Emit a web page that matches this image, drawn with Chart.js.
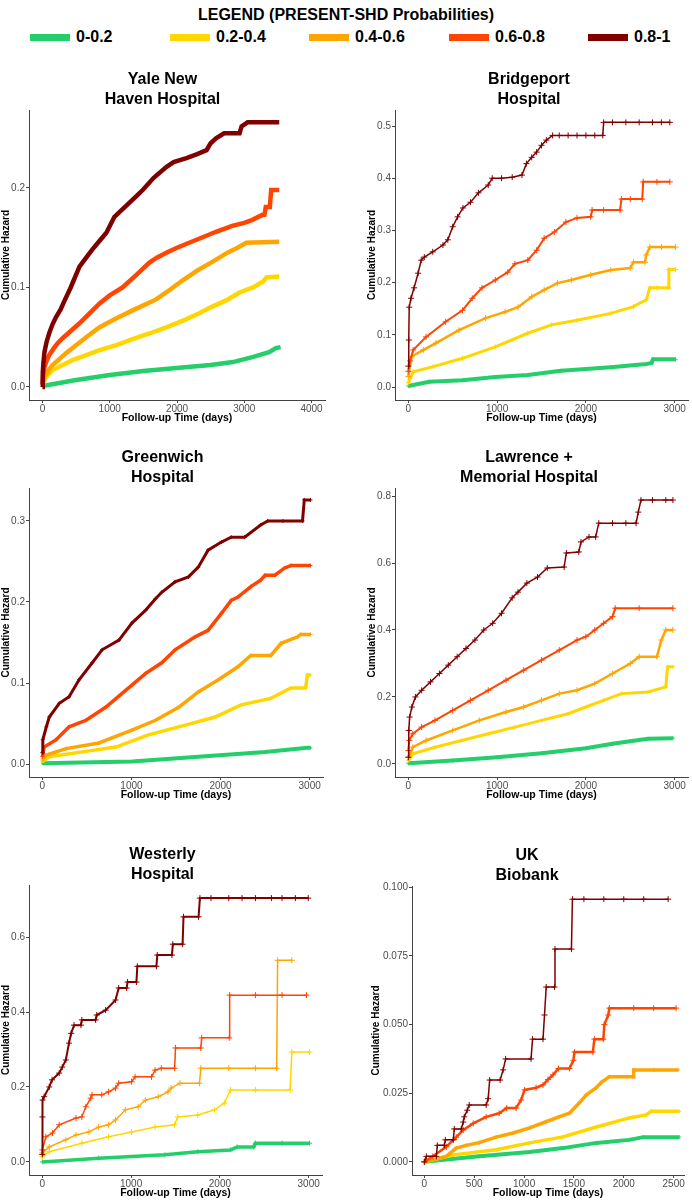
<!DOCTYPE html>
<html>
<head>
<meta charset="utf-8">
<script src="https://cdn.jsdelivr.net/npm/chart.js@4.4.1/dist/chart.umd.min.js"></script>
<style>
html,body{margin:0;padding:0;background:#fff;}
body{width:692px;height:1200px;position:relative;overflow:hidden;font-family:"Liberation Sans",Arial,sans-serif;}
#lt{position:absolute;left:0;top:6px;width:692px;text-align:center;font-weight:bold;font-size:16px;line-height:18px;color:#000;}
.sw{position:absolute;top:34px;width:40px;height:7px;}
.lb{position:absolute;top:28px;font-weight:bold;font-size:16px;line-height:18px;color:#000;}
canvas{position:absolute;}
</style>
</head>
<body>
<div id="lt">LEGEND (PRESENT-SHD Probabilities)</div>
<script>
// ---------- legend ----------
const groupLabels = ['0-0.2', '0.2-0.4', '0.4-0.6', '0.6-0.8', '0.8-1'];
const groupColors = ['#23CE6B', '#FFD700', '#FFA500', '#FF4500', '#800000'];

// ---------- Yale New Haven Hospital ----------
const yale_t_g = [0, 500, 1000, 1500, 1990, 2500, 2830, 3120, 3370, 3470, 3540];
const yale_h_g = [0.001, 0.007, 0.012, 0.016, 0.019, 0.022, 0.025, 0.030, 0.035, 0.039, 0.040];
const yale_t_y = [0, 30, 80, 150, 300, 450, 650, 850, 1100, 1340, 1600, 1840, 2100, 2330, 2500, 2730, 2930, 3130, 3280, 3330, 3520];
const yale_h_y = [0.001, 0.007, 0.012, 0.017, 0.022, 0.027, 0.032, 0.037, 0.042, 0.048, 0.054, 0.060, 0.067, 0.074, 0.080, 0.087, 0.095, 0.100, 0.106, 0.110, 0.111];
const yale_t_o = [0, 30, 80, 150, 250, 350, 500, 650, 850, 1100, 1340, 1500, 1690, 1900, 2080, 2300, 2580, 2750, 2900, 3030, 3520];
const yale_h_o = [0.002, 0.010, 0.016, 0.022, 0.028, 0.034, 0.042, 0.050, 0.060, 0.069, 0.077, 0.082, 0.088, 0.098, 0.107, 0.117, 0.128, 0.135, 0.140, 0.145, 0.146];
const yale_t_r = [0, 10, 30, 60, 100, 160, 225, 300, 400, 550, 700, 850, 1000, 1190, 1400, 1590, 1700, 1840, 2000, 2180, 2400, 2580, 2820, 3000, 3120, 3270, 3300, 3320, 3380, 3400, 3520];
const yale_h_r = [0.003, 0.012, 0.020, 0.026, 0.032, 0.038, 0.044, 0.049, 0.055, 0.064, 0.074, 0.084, 0.092, 0.100, 0.113, 0.125, 0.130, 0.135, 0.140, 0.145, 0.151, 0.156, 0.162, 0.165, 0.168, 0.173, 0.173, 0.181, 0.181, 0.198, 0.198];
const yale_t_d = [0, 5, 15, 30, 60, 100, 150, 200, 270, 330, 420, 550, 650, 740, 850, 950, 1010, 1070, 1180, 1290, 1400, 1490, 1650, 1840, 1950, 2140, 2300, 2440, 2500, 2580, 2700, 2930, 2960, 3050, 3520];
const yale_h_d = [0.000, 0.015, 0.025, 0.035, 0.045, 0.054, 0.063, 0.070, 0.078, 0.087, 0.100, 0.121, 0.130, 0.138, 0.147, 0.155, 0.163, 0.171, 0.178, 0.185, 0.192, 0.198, 0.210, 0.221, 0.226, 0.230, 0.234, 0.238, 0.245, 0.250, 0.255, 0.255, 0.262, 0.266, 0.266];
const yale_xticks = [0, 1000, 2000, 3000, 4000];
const yale_yticks = [0, 0.1, 0.2];

// ---------- Bridgeport Hospital ----------
const bp_t_g = [0, 235, 610, 980, 1345, 1720, 2280, 2680, 2740, 2755, 3010];
const bp_h_g = [0.002, 0.010, 0.013, 0.019, 0.023, 0.031, 0.038, 0.044, 0.046, 0.053, 0.053];
const bp_t_y = [0, 55, 280, 610, 980, 1345, 1610, 1900, 2280, 2535, 2680, 2720, 2800, 2925, 2935, 3010];
const bp_h_y = [0.008, 0.029, 0.039, 0.055, 0.077, 0.103, 0.119, 0.128, 0.141, 0.154, 0.167, 0.190, 0.190, 0.190, 0.225, 0.225];
const bp_t_o = [0, 35, 170, 310, 570, 870, 1090, 1235, 1390, 1530, 1680, 1835, 2055, 2280, 2500, 2535, 2665, 2680, 2720, 2850, 3010];
const bp_h_o = [0.020, 0.058, 0.071, 0.084, 0.109, 0.132, 0.144, 0.153, 0.173, 0.186, 0.199, 0.205, 0.215, 0.224, 0.228, 0.239, 0.239, 0.253, 0.268, 0.268, 0.268];
const bp_t_r = [0, 20, 55, 200, 420, 610, 720, 830, 980, 1120, 1200, 1345, 1445, 1530, 1645, 1775, 1900, 2055, 2070, 2200, 2385, 2400, 2500, 2635, 2645, 2800, 2945];
const bp_h_r = [0.030, 0.050, 0.071, 0.096, 0.125, 0.147, 0.170, 0.190, 0.205, 0.220, 0.236, 0.243, 0.262, 0.285, 0.297, 0.316, 0.324, 0.326, 0.339, 0.339, 0.339, 0.360, 0.360, 0.360, 0.393, 0.393, 0.393];
const bp_t_d = [0, 5, 10, 30, 65, 110, 145, 180, 275, 390, 445, 500, 555, 615, 700, 790, 900, 945, 1050, 1170, 1280, 1330, 1390, 1445, 1500, 1555, 1625, 1700, 1800, 1900, 2000, 2100, 2190, 2200, 2300, 2450, 2600, 2750, 2850, 2945];
const bp_h_d = [0.040, 0.090, 0.153, 0.170, 0.190, 0.218, 0.243, 0.249, 0.259, 0.272, 0.282, 0.307, 0.326, 0.343, 0.354, 0.372, 0.387, 0.400, 0.400, 0.402, 0.406, 0.428, 0.440, 0.450, 0.463, 0.473, 0.482, 0.482, 0.482, 0.482, 0.482, 0.482, 0.482, 0.507, 0.507, 0.507, 0.507, 0.507, 0.507, 0.507];
const bp_xticks = [0, 1000, 2000, 3000];
const bp_yticks = [0, 0.1, 0.2, 0.3, 0.4, 0.5];

// ---------- Greenwich Hospital ----------
const gw_t_g = [0, 1005, 1750, 2500, 2975, 3010];
const gw_h_g = [0.001, 0.003, 0.009, 0.015, 0.020, 0.020];
const gw_t_y = [0, 78, 450, 825, 1190, 1605, 1940, 2230, 2565, 2790, 2955, 2975, 3010];
const gw_h_y = [0.003, 0.009, 0.015, 0.021, 0.036, 0.048, 0.058, 0.073, 0.081, 0.094, 0.094, 0.110, 0.110];
const gw_t_o = [0, 45, 265, 635, 1005, 1270, 1530, 1750, 1975, 2195, 2340, 2565, 2680, 2865, 2900, 3010];
const gw_h_o = [0.005, 0.011, 0.019, 0.026, 0.042, 0.054, 0.070, 0.089, 0.104, 0.120, 0.134, 0.134, 0.149, 0.157, 0.160, 0.160];
const gw_t_r = [0, 20, 155, 300, 490, 710, 935, 1160, 1340, 1490, 1715, 1860, 2010, 2120, 2195, 2340, 2450, 2500, 2610, 2720, 2790, 3010];
const gw_h_r = [0.009, 0.021, 0.030, 0.046, 0.054, 0.070, 0.091, 0.112, 0.125, 0.141, 0.157, 0.165, 0.186, 0.202, 0.206, 0.219, 0.227, 0.233, 0.233, 0.242, 0.245, 0.245];
const gw_t_d = [0, 5, 45, 78, 190, 300, 412, 560, 670, 860, 1005, 1160, 1270, 1340, 1490, 1640, 1750, 1860, 2010, 2120, 2270, 2450, 2530, 2700, 2920, 2940, 3010];
const gw_h_d = [0.014, 0.030, 0.046, 0.058, 0.075, 0.083, 0.104, 0.125, 0.141, 0.153, 0.174, 0.190, 0.204, 0.212, 0.225, 0.231, 0.243, 0.264, 0.274, 0.280, 0.280, 0.295, 0.300, 0.300, 0.300, 0.326, 0.326];
const gw_xticks = [0, 1000, 2000, 3000];
const gw_yticks = [0, 0.1, 0.2, 0.3];

// ---------- Lawrence + Memorial Hospital ----------
const lm_t_g = [0, 500, 1000, 1500, 2000, 2300, 2500, 2700, 2980];
const lm_h_g = [0.002, 0.010, 0.020, 0.032, 0.047, 0.060, 0.068, 0.075, 0.077];
const lm_t_y = [0, 50, 300, 600, 900, 1200, 1500, 1800, 2000, 2200, 2400, 2700, 2900, 2920, 2980];
const lm_h_y = [0.010, 0.030, 0.050, 0.070, 0.090, 0.110, 0.130, 0.150, 0.170, 0.190, 0.210, 0.215, 0.230, 0.290, 0.290];
const lm_t_o = [0, 50, 200, 500, 800, 1100, 1300, 1500, 1700, 1900, 2100, 2300, 2500, 2600, 2800, 2850, 2900, 2980];
const lm_h_o = [0.020, 0.050, 0.070, 0.100, 0.130, 0.155, 0.170, 0.190, 0.210, 0.220, 0.240, 0.270, 0.300, 0.320, 0.320, 0.370, 0.400, 0.400];
const lm_t_r = [0, 10, 50, 150, 300, 500, 700, 900, 1100, 1300, 1500, 1700, 1900, 2000, 2100, 2200, 2300, 2330, 2600, 2980];
const lm_h_r = [0.040, 0.070, 0.090, 0.110, 0.130, 0.160, 0.190, 0.220, 0.250, 0.280, 0.310, 0.340, 0.370, 0.380, 0.400, 0.420, 0.440, 0.465, 0.465, 0.465];
const lm_t_d = [0, 5, 15, 40, 80, 150, 250, 350, 450, 550, 650, 750, 850, 950, 1050, 1170, 1235, 1335, 1455, 1565, 1755, 1780, 1920, 1945, 2035, 2110, 2145, 2300, 2450, 2565, 2590, 2620, 2750, 2900, 2980];
const lm_h_d = [0.020, 0.100, 0.140, 0.170, 0.200, 0.220, 0.245, 0.270, 0.295, 0.320, 0.345, 0.370, 0.400, 0.420, 0.450, 0.496, 0.513, 0.540, 0.558, 0.585, 0.588, 0.630, 0.633, 0.663, 0.678, 0.678, 0.719, 0.719, 0.719, 0.719, 0.752, 0.788, 0.788, 0.788, 0.788];
const lm_xticks = [0, 1000, 2000, 3000];
const lm_yticks = [0, 0.2, 0.4, 0.6, 0.8];

// ---------- Westerly Hospital ----------
const ws_t_g = [0, 635, 1380, 1750, 2120, 2195, 2380, 2400, 2700, 3010];
const ws_h_g = [0.000, 0.010, 0.019, 0.027, 0.032, 0.040, 0.040, 0.050, 0.050, 0.050];
const ws_t_y = [0, 78, 445, 745, 1005, 1270, 1490, 1525, 1750, 1940, 2050, 2120, 2400, 2790, 2810, 3010];
const ws_h_y = [0.014, 0.027, 0.050, 0.067, 0.080, 0.093, 0.099, 0.120, 0.125, 0.139, 0.157, 0.192, 0.192, 0.192, 0.293, 0.293];
const ws_t_o = [0, 78, 265, 380, 525, 635, 745, 825, 935, 1080, 1160, 1305, 1415, 1450, 1550, 1770, 1785, 2100, 2400, 2640, 2650, 2810];
const ws_h_o = [0.024, 0.040, 0.059, 0.072, 0.080, 0.093, 0.099, 0.112, 0.139, 0.147, 0.165, 0.174, 0.187, 0.197, 0.210, 0.210, 0.250, 0.250, 0.250, 0.250, 0.538, 0.538];
const ws_t_r = [0, 40, 115, 190, 380, 445, 490, 545, 560, 670, 745, 825, 860, 1005, 1045, 1230, 1270, 1340, 1490, 1500, 1785, 1795, 2105, 2110, 2400, 2700, 2975];
const ws_h_r = [0.032, 0.067, 0.077, 0.099, 0.117, 0.120, 0.147, 0.170, 0.179, 0.179, 0.187, 0.197, 0.210, 0.214, 0.227, 0.227, 0.245, 0.250, 0.250, 0.304, 0.304, 0.331, 0.331, 0.445, 0.445, 0.445, 0.445];
const ws_t_d = [0, 1, 3, 20, 78, 110, 190, 225, 265, 300, 325, 357, 435, 445, 600, 613, 713, 825, 860, 950, 960, 1060, 1070, 1285, 1295, 1460, 1470, 1580, 1590, 1760, 1775, 1900, 2100, 2250, 2400, 2580, 2700, 2850, 2995];
const ws_h_d = [0.020, 0.120, 0.165, 0.174, 0.200, 0.219, 0.237, 0.253, 0.272, 0.317, 0.343, 0.365, 0.365, 0.379, 0.379, 0.392, 0.405, 0.432, 0.464, 0.464, 0.480, 0.480, 0.522, 0.522, 0.552, 0.552, 0.581, 0.581, 0.654, 0.654, 0.704, 0.704, 0.704, 0.704, 0.704, 0.704, 0.704, 0.704, 0.704];
const ws_xticks = [0, 1000, 2000, 3000];
const ws_yticks = [0, 0.2, 0.4, 0.6];

// ---------- UK Biobank ----------
const uk_t_g = [0, 550, 1055, 1390, 1725, 2055, 2195, 2555];
const uk_h_g = [0, 0.0020, 0.0036, 0.0050, 0.0069, 0.0080, 0.0090, 0.0090];
const uk_t_y = [0, 290, 720, 1055, 1390, 1725, 2055, 2225, 2275, 2555];
const uk_h_y = [0, 0.0025, 0.0044, 0.0069, 0.0091, 0.0127, 0.0160, 0.0171, 0.0184, 0.0184];
const uk_t_o = [0, 220, 320, 420, 550, 720, 890, 1055, 1220, 1350, 1455, 1555, 1625, 1725, 1775, 1855, 2095, 2100, 2300, 2545];
const uk_h_o = [0, 0.0020, 0.0050, 0.0060, 0.0070, 0.0090, 0.0105, 0.0124, 0.0146, 0.0164, 0.0177, 0.0215, 0.0244, 0.0270, 0.0290, 0.0310, 0.0310, 0.0335, 0.0335, 0.0335];
const uk_t_r = [0, 85, 220, 320, 390, 490, 620, 750, 825, 920, 970, 1005, 1120, 1190, 1240, 1290, 1345, 1455, 1495, 1505, 1690, 1705, 1795, 1805, 1845, 1855, 2100, 2300, 2525];
const uk_h_r = [0, 0.0020, 0.0055, 0.0090, 0.0116, 0.0140, 0.0164, 0.0177, 0.0196, 0.0196, 0.0225, 0.0262, 0.0270, 0.0280, 0.0300, 0.0317, 0.0340, 0.0340, 0.0370, 0.0400, 0.0400, 0.0447, 0.0447, 0.0500, 0.0535, 0.0560, 0.0560, 0.0560, 0.0560];
const uk_t_d = [0, 20, 120, 130, 200, 210, 290, 300, 370, 390, 400, 430, 450, 620, 640, 655, 760, 790, 815, 1070, 1085, 1190, 1205, 1222, 1305, 1310, 1475, 1485, 1600, 1800, 2000, 2200, 2445];
const uk_h_d = [0, 0.0020, 0.0020, 0.0060, 0.0060, 0.0080, 0.0080, 0.0120, 0.0120, 0.0145, 0.0164, 0.0188, 0.0207, 0.0207, 0.0230, 0.0298, 0.0298, 0.0335, 0.0375, 0.0375, 0.0447, 0.0447, 0.0535, 0.0637, 0.0637, 0.0775, 0.0775, 0.0957, 0.0957, 0.0957, 0.0957, 0.0957, 0.0957];
const uk_xticks = [0, 500, 1000, 1500, 2000, 2500];
const uk_yticks = [0, 0.025, 0.05, 0.075, 0.1];

// ---------- build legend ----------
const legendX = [30, 170, 309, 449, 588];
groupLabels.forEach((lab, i) => {
  const sw = document.createElement('div');
  sw.className = 'sw'; sw.style.left = legendX[i] + 'px'; sw.style.background = groupColors[i];
  document.body.appendChild(sw);
  const t = document.createElement('div');
  t.className = 'lb'; t.style.left = (legendX[i] + 46) + 'px'; t.textContent = lab;
  document.body.appendChild(t);
});

Chart.defaults.font.family = "'Liberation Sans', Arial, Helvetica, sans-serif";

function makePanel(p) {
  const c = document.createElement('canvas');
  c.width = p.w; c.height = p.h;
  c.style.left = p.left + 'px'; c.style.top = p.top + 'px';
  c.style.width = p.w + 'px'; c.style.height = p.h + 'px';
  document.body.appendChild(c);
  const datasets = p.series.map((s, i) => ({
    label: groupLabels[i],
    data: s[0].map((t, j) => ({ x: t, y: s[1][j] })),
    borderColor: groupColors[i],
    backgroundColor: groupColors[i],
    borderWidth: p.bw[i],
    pointStyle: 'cross',
    pointRadius: p.pr[i],
    pointBorderWidth: 1,
    pointBorderColor: groupColors[i],
    pointHoverRadius: 0,
    fill: false,
    tension: 0,
    order: 4 - i
  }));
  new Chart(c, {
    type: 'line',
    data: { datasets },
    options: {
      responsive: false, animation: false, events: [],
      layout: { padding: { left: 0, right: p.padR, top: 0, bottom: 0 } },
      plugins: {
        legend: { display: false }, tooltip: { enabled: false },
        title: { display: true, text: p.title, color: '#000',
          font: { size: 16, weight: 'bold', lineHeight: 1.25 }, padding: { top: 2, bottom: 0 } }
      },
      scales: {
        x: {
          type: 'linear', min: p.xmin, max: p.xmax,
          afterBuildTicks: s => { s.ticks = p.xticks.map(v => ({ value: v })); },
          afterFit: s => { s.height = 25; },
          ticks: { font: { size: 10 }, color: '#4d4d4d', padding: 0, maxRotation: 0, autoSkip: false, callback: v => String(v) },
          grid: { drawOnChartArea: false, drawTicks: true, tickLength: 3, color: '#444', lineWidth: 1 },
          border: { display: true, color: '#444', width: 1 },
          title: { display: true, text: 'Follow-up Time (days)', color: '#000', font: { size: 10.5, weight: 'bold', lineHeight: 1.2 }, padding: { top: 0, bottom: 1 } }
        },
        y: {
          type: 'linear', min: p.ymin, max: p.ymax,
          afterBuildTicks: s => { s.ticks = p.yticks.map(v => ({ value: v })); },
          afterFit: s => { s.width = p.yw; },
          ticks: { font: { size: 10 }, color: '#4d4d4d', padding: 1, autoSkip: false, callback: v => Number(v).toFixed(p.dec) },
          grid: { drawOnChartArea: false, drawTicks: true, tickLength: 3, color: '#444', lineWidth: 1 },
          border: { display: true, color: '#444', width: 1 },
          title: { display: true, text: 'Cumulative Hazard', color: '#000', font: { size: 10, weight: 'bold', lineHeight: 1.2 }, padding: { top: 0, bottom: 0 } }
        }
      }
    }
  });
}

makePanel({ title: ['Yale New', 'Haven Hospital'], left: 0, top: 68, w: 326, h: 357, yw: 29, padR: 1,
  xmin: -200, xmax: 4200, ymin: -0.0131, ymax: 0.2784, xticks: yale_xticks, yticks: yale_yticks, dec: 1,
  series: [[yale_t_g, yale_h_g], [yale_t_y, yale_h_y], [yale_t_o, yale_h_o], [yale_t_r, yale_h_r], [yale_t_d, yale_h_d]],
  bw: [4.5, 4.5, 4.5, 4.5, 4.5], pr: [0, 0, 0, 0, 0] });

makePanel({ title: ['Bridgeport', 'Hospital'], left: 366, top: 68, w: 326, h: 357, yw: 29, padR: 0,
  xmin: -150, xmax: 3150, ymin: -0.0249, ymax: 0.5307, xticks: bp_xticks, yticks: bp_yticks, dec: 1,
  series: [[bp_t_g, bp_h_g], [bp_t_y, bp_h_y], [bp_t_o, bp_h_o], [bp_t_r, bp_h_r], [bp_t_d, bp_h_d]],
  bw: [4, 3, 2.5, 2, 1.5], pr: [2, 2.5, 3, 3, 3] });

makePanel({ title: ['Greenwich', 'Hospital'], left: 0, top: 446, w: 326, h: 356, yw: 29, padR: 1,
  xmin: -150, xmax: 3150, ymin: -0.016, ymax: 0.3407, xticks: gw_xticks, yticks: gw_yticks, dec: 1,
  series: [[gw_t_g, gw_h_g], [gw_t_y, gw_h_y], [gw_t_o, gw_h_o], [gw_t_r, gw_h_r], [gw_t_d, gw_h_d]],
  bw: [4, 3.5, 3.5, 3.5, 3], pr: [1.5, 1.5, 2, 2, 2] });

makePanel({ title: ['Lawrence +', 'Memorial Hospital'], left: 366, top: 446, w: 326, h: 356, yw: 29, padR: 0,
  xmin: -150, xmax: 3150, ymin: -0.039, ymax: 0.824, xticks: lm_xticks, yticks: lm_yticks, dec: 1,
  series: [[lm_t_g, lm_h_g], [lm_t_y, lm_h_y], [lm_t_o, lm_h_o], [lm_t_r, lm_h_r], [lm_t_d, lm_h_d]],
  bw: [4, 3, 2.5, 2, 1.5], pr: [2, 2, 3, 3, 3] });

makePanel({ title: ['Westerly', 'Hospital'], left: 0, top: 843, w: 326, h: 357, yw: 29, padR: 1,
  xmin: -150, xmax: 3150, ymin: -0.035, ymax: 0.739, xticks: ws_xticks, yticks: ws_yticks, dec: 1,
  series: [[ws_t_g, ws_h_g], [ws_t_y, ws_h_y], [ws_t_o, ws_h_o], [ws_t_r, ws_h_r], [ws_t_d, ws_h_d]],
  bw: [3.5, 1.5, 1.5, 1.5, 2], pr: [2.5, 3, 3, 3, 3] });

makePanel({ title: ['UK', 'Biobank'], left: 370, top: 844, w: 322, h: 356, yw: 42, padR: 8,
  xmin: -124, xmax: 2604, ymin: -0.0048, ymax: 0.1005, xticks: uk_xticks, yticks: uk_yticks, dec: 3,
  series: [[uk_t_g, uk_h_g], [uk_t_y, uk_h_y], [uk_t_o, uk_h_o], [uk_t_r, uk_h_r], [uk_t_d, uk_h_d]],
  bw: [4, 3.5, 3.5, 2.5, 1.5], pr: [2, 2, 2, 3, 3] });
</script>
</body>
</html>
